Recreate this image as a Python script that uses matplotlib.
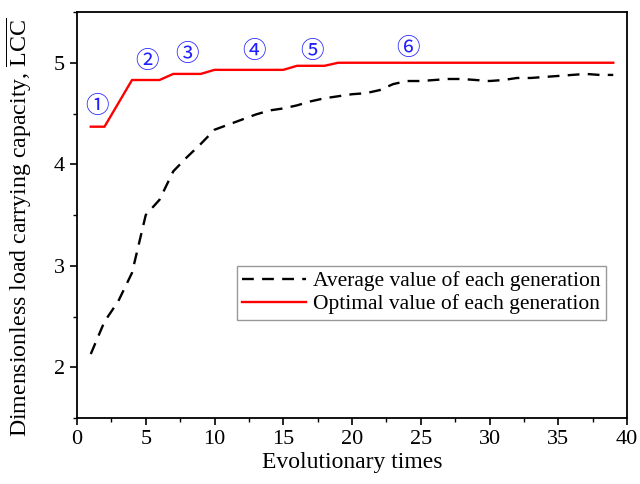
import matplotlib
matplotlib.use('Agg')
import matplotlib.pyplot as plt
from matplotlib.ticker import MultipleLocator

plt.rcParams['font.family'] = ['Liberation Serif', 'DejaVu Serif']
plt.rcParams['mathtext.fontset'] = 'custom'
plt.rcParams['mathtext.rm'] = 'Liberation Serif'

# evolutionary times (generations)
gens = list(range(1, 40))

# average LCC of each generation
avg_lcc = [2.13, 2.45, 2.65, 2.93, 3.50, 3.65, 3.93, 4.07, 4.20, 4.34,
           4.39, 4.44, 4.49, 4.53, 4.55, 4.58, 4.62, 4.65, 4.67, 4.69,
           4.70, 4.73, 4.79, 4.82, 4.82, 4.83, 4.84, 4.84, 4.83, 4.82,
           4.83, 4.85, 4.85, 4.86, 4.87, 4.88, 4.89, 4.88, 4.88]

# optimal LCC of each generation
opt_lcc = [4.37, 4.37, 4.60, 4.83, 4.83, 4.83, 4.89, 4.89, 4.89, 4.93,
           4.93, 4.93, 4.93, 4.93, 4.93, 4.97, 4.97, 4.97, 5.00, 5.00,
           5.00, 5.00, 5.00, 5.00, 5.00, 5.00, 5.00, 5.00, 5.00, 5.00,
           5.00, 5.00, 5.00, 5.00, 5.00, 5.00, 5.00, 5.00, 5.00]

# stage markers
marks = ['①', '②', '③', '④', '⑤', '⑥']
mark_x = [1.45, 5.1, 8.0, 12.9, 17.1, 24.1]
mark_y = [4.57, 5.01, 5.08, 5.11, 5.11, 5.14]

fig = plt.figure(figsize=(6.4, 4.84), dpi=100)
ax = fig.add_axes([77 / 640, 66 / 484, 550 / 640, 406 / 484])

ax.plot(gens, avg_lcc, color='black', linestyle=(0, (5, 3.5)), linewidth=1.7,
        label='Average value of each generation')
ax.plot(gens, opt_lcc, color='red', linewidth=1.7,
        label='Optimal value of each generation')

for m, x, y in zip(marks, mark_x, mark_y):
    ax.text(x, y, m, color='#2020ff', fontsize=17, ha='center', va='center',
            family=['Noto Sans CJK SC', 'DejaVu Sans'])

ax.set_xlim(0, 40)
ax.set_ylim(1.5, 5.5)
ax.xaxis.set_major_locator(MultipleLocator(5))
ax.xaxis.set_minor_locator(MultipleLocator(2.5))
ax.yaxis.set_major_locator(MultipleLocator(1))
ax.yaxis.set_minor_locator(MultipleLocator(0.5))
ax.tick_params(which='major', direction='out', length=5, width=1.2, labelsize=16)
ax.tick_params(which='minor', direction='out', length=3, width=1.0)
for s in ax.spines.values():
    s.set_linewidth(1.3)

ax.set_xlabel('Evolutionary times', fontsize=17, labelpad=2)
ax.set_ylabel(r'Dimensionless load carrying capacity, $\overline{\mathrm{LCC}}$',
              fontsize=17.2)
ax.yaxis.set_label_coords(-0.078, 0.47)

leg = ax.legend(loc='upper left', bbox_to_anchor=(0.29, 0.375), fontsize=15.5,
                frameon=True, fancybox=False, edgecolor='gray',
                handlelength=3.0, borderpad=0.25, labelspacing=0.15,
                handletextpad=0.3, borderaxespad=0)
leg.get_frame().set_linewidth(1.0)

fig.savefig('out.png', dpi=100)
